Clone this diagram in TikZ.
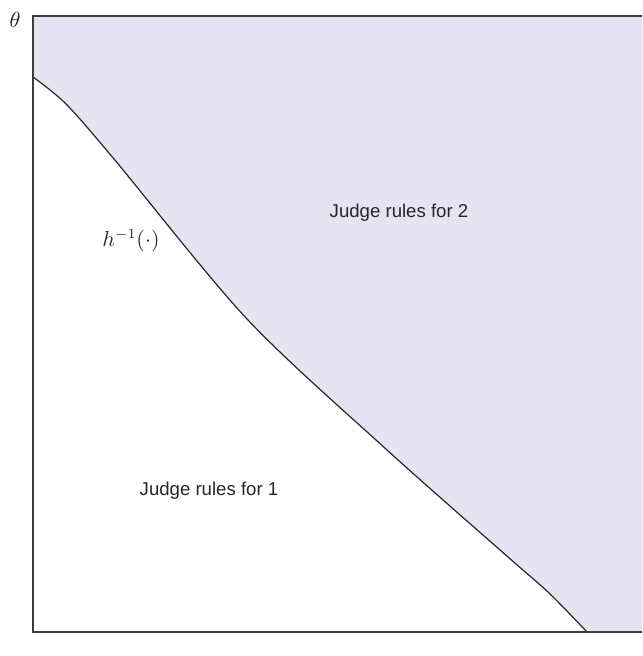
\documentclass[tikz,border=0pt]{standalone}
\usepackage{amsmath}
\usepackage{fontspec}
\setmainfont{Liberation Sans}
\usepackage{tikz}
\usetikzlibrary{positioning}
\definecolor{regiontwo}{RGB}{230,228,242}
\definecolor{framegray}{RGB}{60,60,60}
\newcommand{\bndpts}{(33,77) (66,104) (114,159) (247,319) (387,450) (508,557) (549,593) (587,632)}

\begin{document}
\begin{tikzpicture}[
  x=0.5pt, y=-0.5pt,
  font=\fontsize{9.3}{11}\selectfont,
  lbl/.style={inner sep=0pt, text=black!85},
  mlbl/.style={lbl, font=\fontsize{10.5}{12}\selectfont},
  frm/.style={draw=framegray, line width=0.8pt},
  bnd/.style={draw=black!85, line width=0.6pt}
]
\useasboundingbox (0,0) rectangle (642,656);
% shaded region for judge 2
\fill[regiontwo] plot[smooth] coordinates {\bndpts}
  -- (642,632) -- (642,16) -- (33,16) -- cycle;
% boundary h^{-1}
\draw[bnd] plot[smooth] coordinates {\bndpts};
% frame
\draw[frm] (642,16) -- (33,16) -- (33,632) -- (642,632);
\node[mlbl] (theta) at (15,20) {$\theta$};
\node[mlbl] (hinv) at (131,241) {$h^{-1}(\cdot)$};
\node[lbl] (two) at (399,213) {Judge rules for 2};
\node[lbl] (one) at (209,491) {Judge rules for 1};
\end{tikzpicture}
\end{document}
